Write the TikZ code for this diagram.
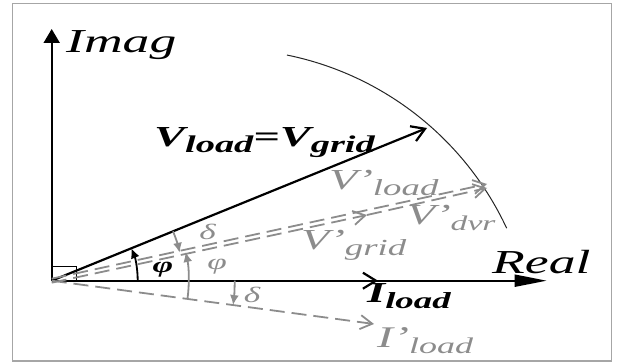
\documentclass[tikz,border=0pt]{standalone}
\usepackage{fontspec}
\setmainfont{Liberation Serif}
\usetikzlibrary{arrows.meta,calc}
\definecolor{phgray}{RGB}{140,140,140}
\newcommand{\wide}[1]{\scalebox{1.6}[1]{#1}}
\newcommand{\lowsub}[2]{\raisebox{-0.2em}{\fontsize{#1}{#1}\selectfont #2}}

\begin{document}
\begin{tikzpicture}[x=1pt, y=1pt, >=Latex]
\tikzstyle{ax}=[line width=2pt, black]
\tikzstyle{vec}=[line width=2.2pt, -{Straight Barb[length=13pt,width=16pt]}]
\tikzstyle{dvec}=[line width=1.8pt, phgray, dash pattern=on 15pt off 7pt, -{Straight Barb[length=12pt,width=14pt]}]
\tikzstyle{ang}=[line width=1.8pt, -{Latex[length=10pt,width=9pt]}]
\tikzstyle{lbl}=[inner sep=0pt, anchor=base west]
\useasboundingbox (0,0) rectangle (618,363);
\draw[line width=1.2pt, black!35] (12.3,2) rectangle (611.7,359.7);

\coordinate (O) at (51.7,82.3);
\coordinate (imag) at (51.7,334);
\coordinate (real) at (546.7,82.3);
\coordinate (vl) at (427,235);
\coordinate (vlp) at (487,177);
\coordinate (vgp) at (367,150);
\coordinate (ilp) at (374,39);
\coordinate (il) at (378,82.3);

% axes
\draw[ax, -{Triangle[length=14pt,width=16pt]}] (O) -- (imag);
\draw[ax, -{Triangle[length=32pt,width=12pt]}] (O) -- (real);
\draw[line width=0.8pt] (O) rectangle +(25,14.4);

% locus of the load voltage
\draw[line width=1pt, black!85] (225,3.4) ++(78.5:310.8) arc[start angle=78.5, end angle=25, radius=310.8];

% phasors
\draw[vec] (O) -- (vl);
\draw[vec] (O) -- (il);
\draw[dvec] ([yshift=2pt]O) -- ([yshift=2pt]vlp);
\draw[dvec] ([yshift=-2pt]O) -- ([yshift=-2pt]vgp);
\draw[dvec] ([yshift=-2pt]vgp) -- ([yshift=-2pt]vlp);
\draw[dvec] (O) -- (ilp);

% angles
\draw[ang] (O) ++(0:86) arc[start angle=0, end angle=22.14, radius=86];
\draw[ang, phgray] (O) ++(-7.65:137) arc[start angle=-7.65, end angle=12.1, radius=137];
\draw[ang, phgray] (O) ++(22.14:131) arc[start angle=22.14, end angle=12.3, radius=131];
\draw[ang, phgray] (O) ++(0:183) arc[start angle=0, end angle=-7.65, radius=183];

% labels
\node[lbl, font=\fontsize{33.5}{34}\selectfont\itshape] (imagl) at (66,310) {\wide{Imag}};
\node[lbl, font=\fontsize{33.5}{34}\selectfont\itshape] (reall) at (492,89.7) {\wide{Real}};
\node[lbl, font=\fontsize{29}{29}\selectfont\bfseries\itshape] (vll) at (154,216) {\wide{V\lowsub{24}{load}=V\lowsub{24}{grid}}};
\node[lbl, font=\fontsize{29}{29}\selectfont\bfseries\itshape] (ill) at (367,60) {\wide{I\lowsub{23}{load}}};
\node[lbl, phgray, font=\fontsize{29}{29}\selectfont\itshape] (vlpl) at (329,173) {\wide{V’\lowsub{23}{load}}};
\node[lbl, phgray, font=\fontsize{29}{29}\selectfont\itshape] (vdpl) at (406.7,138) {\wide{V’\lowsub{21}{dvr}}};
\node[lbl, phgray, font=\fontsize{29}{29}\selectfont\itshape] (vgpl) at (301,113) {\wide{V’\lowsub{23}{grid}}};
\node[lbl, phgray, font=\fontsize{30}{30}\selectfont\itshape] (ilpl) at (377,15) {\wide{I’\lowsub{22.5}{load}}};
\node[inner sep=0pt, font=\fontsize{22}{22}\selectfont\itshape\bfseries] (phil) at (163,93) {\wide{φ}};
\node[inner sep=0pt, phgray, font=\fontsize{22}{22}\selectfont\itshape] (phipl) at (217,96) {\wide{φ}};
\node[inner sep=0pt, phgray, font=\fontsize{22}{22}\selectfont\itshape] (delal) at (207.5,131) {\wide{δ}};
\node[inner sep=0pt, phgray, font=\fontsize{22}{22}\selectfont\itshape] (delbl) at (252,68) {\wide{δ}};
\end{tikzpicture}
\end{document}
